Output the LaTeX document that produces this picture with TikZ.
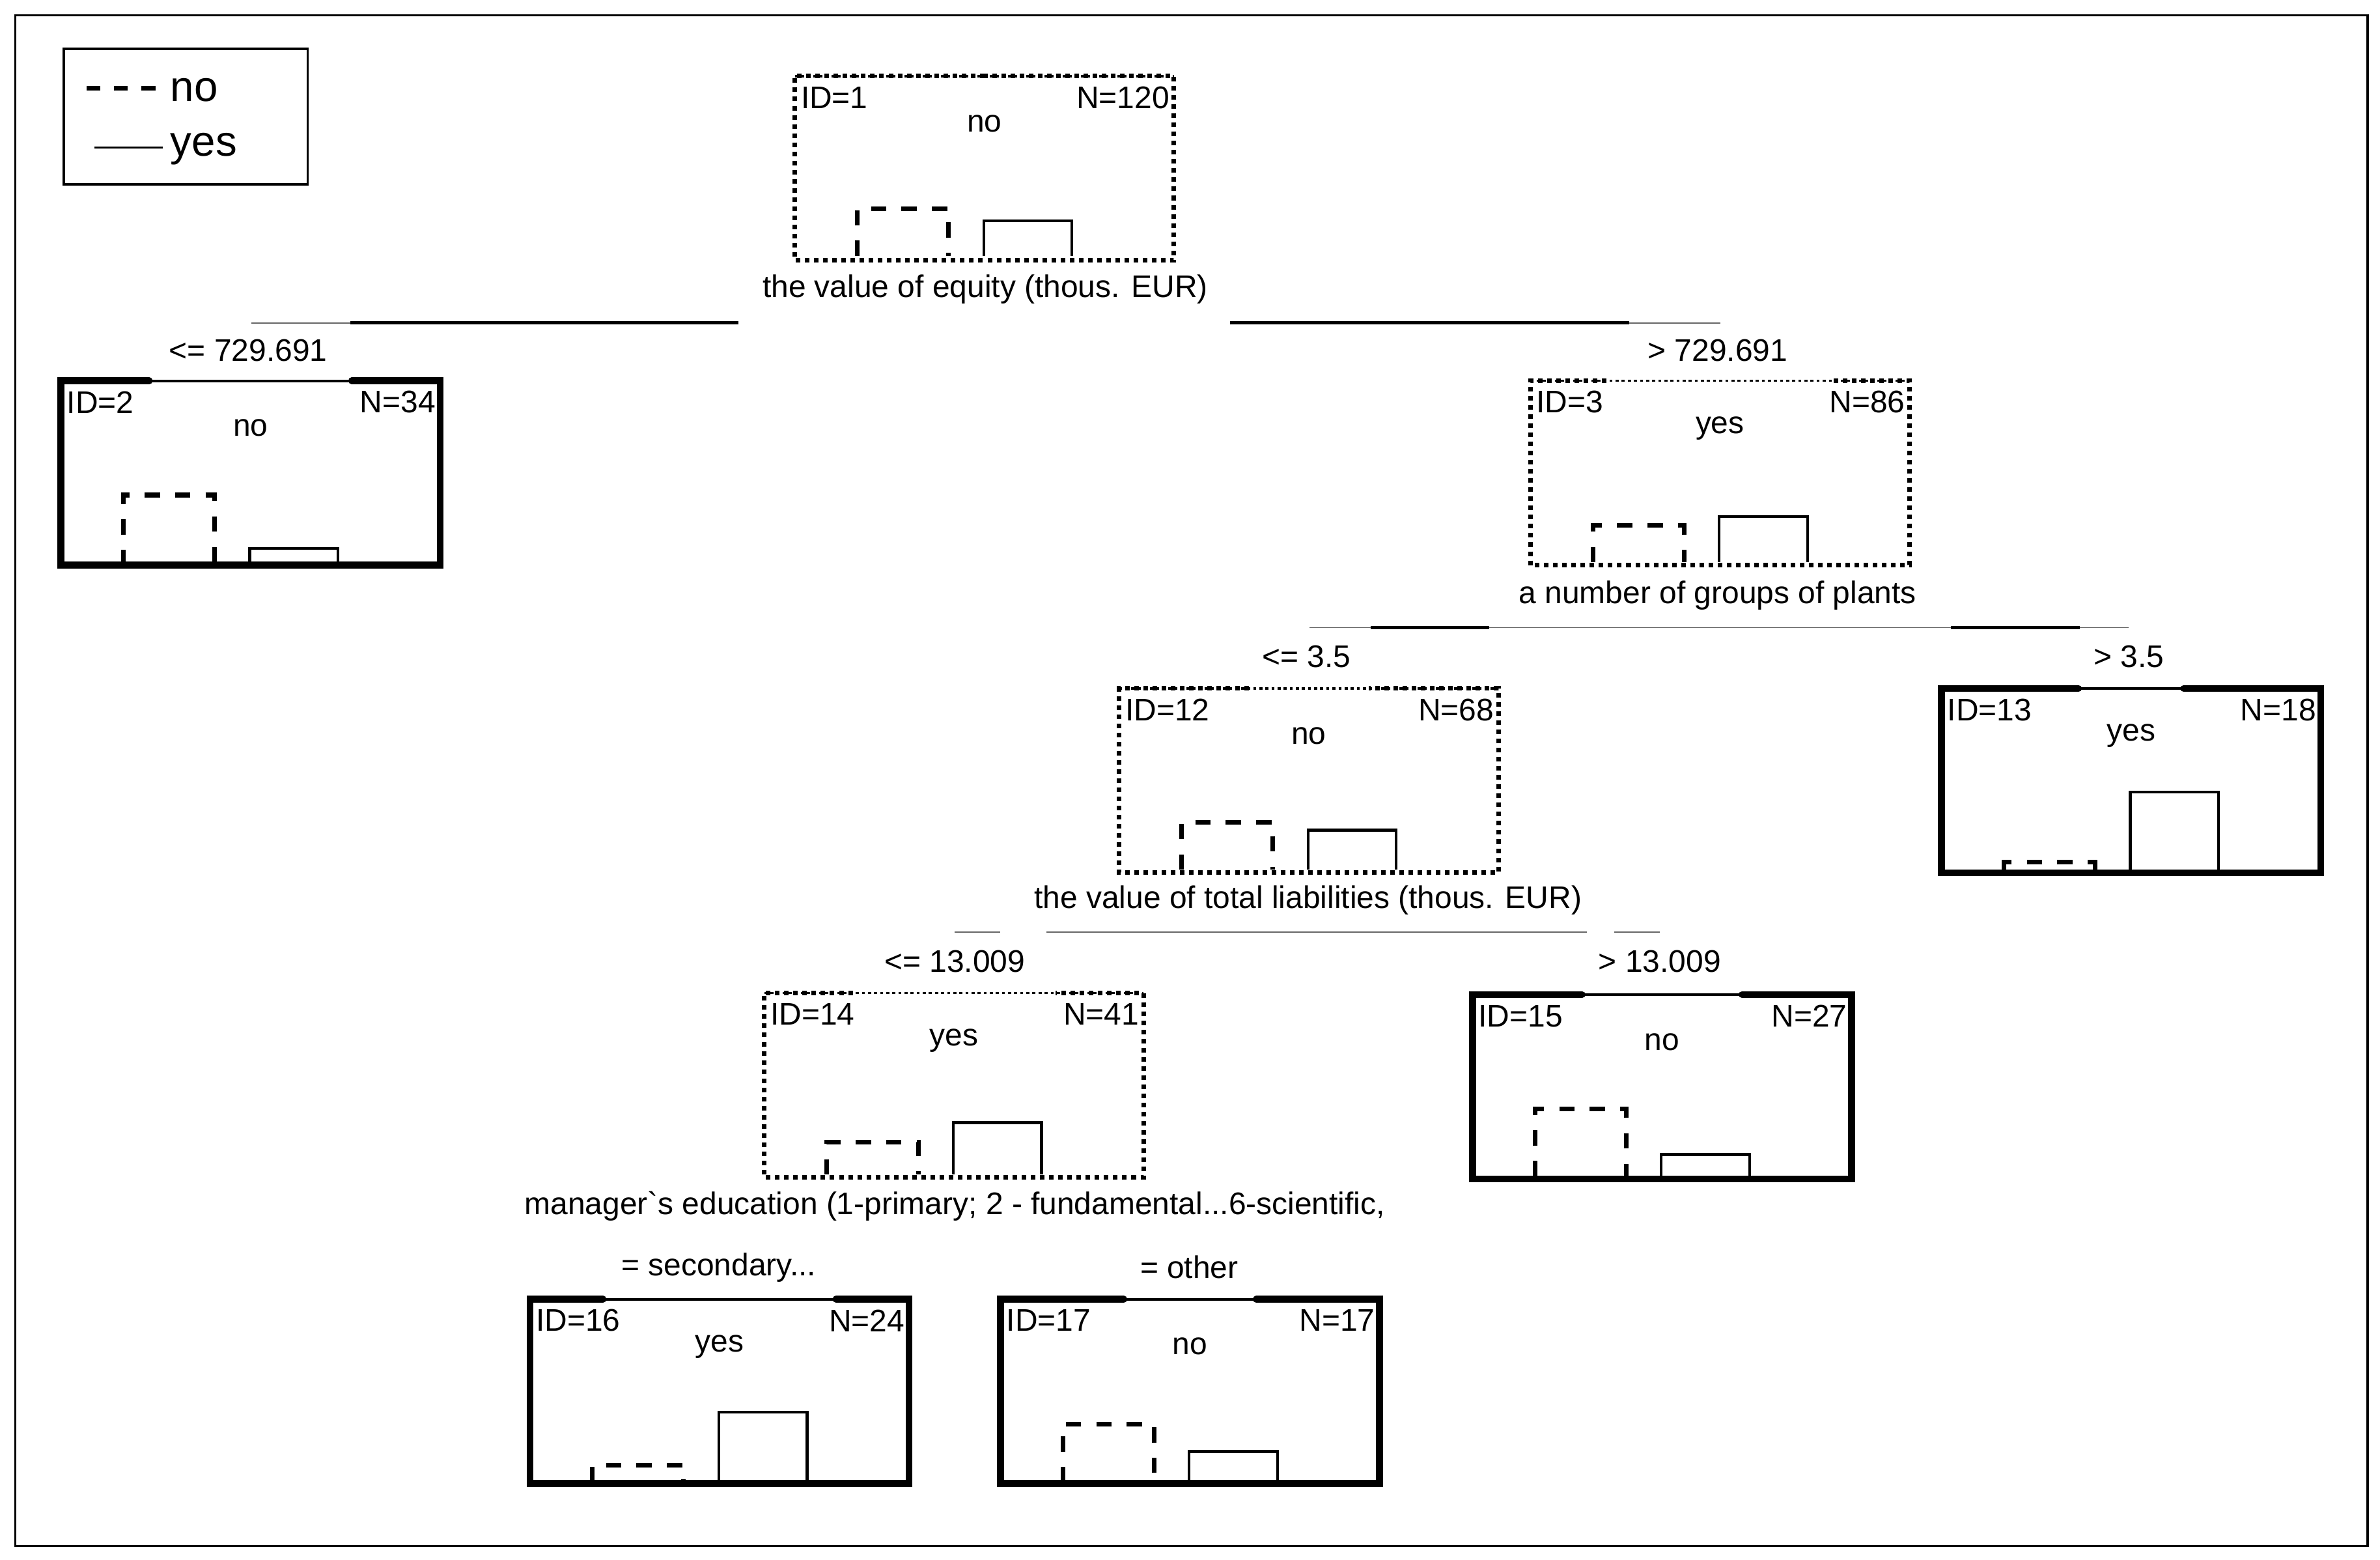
\documentclass[tikz,border=0pt]{standalone}
\usepackage{fontspec}
\setmainfont{Liberation Sans}
\begin{document}
\begin{tikzpicture}[x=1pt,y=-1pt,
  every node/.style={font=\fontsize{20.5}{24}\selectfont,inner sep=0pt,outer sep=0pt},
  dotb thin/.style={line width=1.5pt,dash pattern=on 2pt off 2pt},
  dotb thick/.style={line width=3pt,dash pattern=on 3pt off 3pt},
  solb thin/.style={line width=1.8pt},
  solb thick/.style={line width=4.5pt,line cap=round},
  dbar/.style={line width=3pt,dash pattern=on 10pt off 10pt},
  sbar/.style={line width=1.8pt},
  thinc/.style={line width=0.8pt,draw=black!60},
  thickc/.style={line width=2pt},
  lbl/.style={anchor=center}]
\useasboundingbox (0,0) rectangle (1563,1024);
\draw[line width=1.6pt] (10,10) rectangle (1555,1015);
% legend
\node[draw,line width=1.6pt,minimum width=160pt,minimum height=89pt] (legend) at (122,76.5) {};
\draw[line width=3pt,dash pattern=on 9pt off 9pt] (57,58) coordinate (l1) -- (107,58);
\draw[line width=1.3pt] (62,97) -- (107,97);
\node[anchor=west,font=\fontsize{28}{32}\selectfont] (legno) at (112,59) {no};
\node[anchor=west,font=\fontsize{28}{32}\selectfont] (legyes) at (112,98) {yes};

\newcommand\tn[8]{%
 \node[minimum width=249pt,minimum height=121pt] (#1) at (#2+124.5,#3+60.5) {};
 \draw[#4 thin] (#1.north west) -- (#1.north east);
 \draw[#4 thick] ([xshift=#8pt]#1.north west) -- (#1.north west) -- (#1.south west) -- (#1.south east) -- (#1.north east) -- ([xshift=-#8pt]#1.north east);
 \node[anchor=west] (#1id) at ([xshift=4pt,yshift=-14pt]#1.north west) {ID=#5};
 \node[anchor=east] (#1n) at ([xshift=-3pt,yshift=-14pt]#1.north east) {N=#6};
 \node (#1c) at ([yshift=-31pt]#1.north) {#7};
}
\newcommand\bars[4]{%
 \draw[dbar] (#1+41,#2) -- (#1+41,#3) -- (#1+101,#3) -- (#1+101,#2);
 \draw[sbar] (#1+124,#2) -- (#1+124,#4) -- (#1+182,#4) -- (#1+182,#2);
}
\tn{n1}{522}{50}{dotb}{1}{120}{no}{124.5}
\bars{522}{168}{137}{145}
\node (s1) at (647,190) {the value of equity (thous. EUR)};
\draw[thinc] (165,212) coordinate (a1) -- (230,212);
\draw[thickc] (230,212) -- (485,212) coordinate (a2);
\draw[thickc] (808,212) coordinate (b1) -- (1070,212);
\draw[thinc] (1070,212) -- (1130,212) coordinate (b2);
\node (e2) at (163,230) {<= 729.691};
\node (e3) at (1128,230) {> 729.691};

\tn{n2}{40}{250}{solb}{2}{34}{no}{58}
\bars{40}{371}{325}{360}
\tn{n3}{1005}{250}{dotb}{3}{86}{yes}{50}
\bars{1005}{369}{345}{339}
\node (s3) at (1128,391) {a number of groups of plants};
\draw[thinc] (860,412) coordinate (c1) -- (1398,412) coordinate (c2);
\draw[thickc] (900,412) -- (978,412);
\draw[thickc] (1281,412) -- (1366,412);
\node (e12) at (858,431) {<= 3.5};
\node (e13) at (1398,431) {> 3.5};

\tn{n12}{735}{452}{dotb}{12}{68}{no}{85}
\bars{735}{571}{540}{545}
\tn{n13}{1275}{452}{solb}{13}{18}{yes}{90}
\bars{1275}{571}{566}{520}
\node (s12) at (859,591) {the value of total liabilities (thous. EUR)};
\draw[thinc] (627,612) coordinate (d1) -- (657,612);
\draw[thinc] (687,612) -- (1042,612);
\draw[thinc] (1060,612) -- (1090,612) coordinate (d2);
\node (e14) at (627,631) {<= 13.009};
\node (e15) at (1090,631) {> 13.009};

\tn{n14}{502}{652}{dotb}{14}{41}{yes}{58}
\bars{502}{771}{750}{737}
\tn{n15}{967}{653}{solb}{15}{27}{no}{72}
\bars{967}{772}{728}{758}
\node (s14) at (627,792) {manager\textasciigrave s education (1-primary; 2 - fundamental...6-scientific,};
\node (e16) at (472,832) {= secondary...};
\node (e17) at (781,832) {= other};

\tn{n16}{348}{853}{solb}{16}{24}{yes}{48}
\bars{348}{973}{962}{927}
\tn{n17}{657}{853}{solb}{17}{17}{no}{81}
\bars{657}{973}{935}{953}
\end{tikzpicture}
\end{document}
